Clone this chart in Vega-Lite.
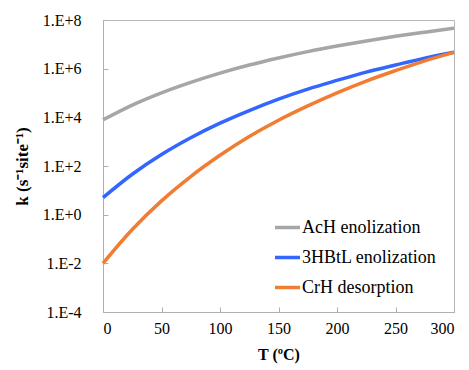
{
  "$schema": "https://vega.github.io/schema/vega-lite/v6.json",
  "width": 351,
  "height": 292,
  "autosize": "none",
  "padding": {"left": 103, "top": 20, "right": 15, "bottom": 58},
  "background": "white",
  "config": {
    "font": "Liberation Serif",
    "view": {"stroke": "#b8b8b8", "strokeWidth": 1},
    "axis": {
      "domainColor": "#b0b0b0",
      "tickColor": "#b0b0b0",
      "grid": false,
      "labelFont": "Liberation Serif",
      "labelFontSize": 16,
      "labelColor": "#000000",
      "titleFont": "Liberation Serif",
      "titleColor": "#000000"
    },
    "legend": {
      "labelFont": "Liberation Serif"
    }
  },
  "data": {
    "values": [
      {"T": 0, "k": 7900, "series": "AcH enolization"},
      {"T": 25, "k": 32000, "series": "AcH enolization"},
      {"T": 50, "k": 102000, "series": "AcH enolization"},
      {"T": 75, "k": 275000, "series": "AcH enolization"},
      {"T": 100, "k": 660000, "series": "AcH enolization"},
      {"T": 125, "k": 1410000, "series": "AcH enolization"},
      {"T": 150, "k": 2750000, "series": "AcH enolization"},
      {"T": 175, "k": 5000000, "series": "AcH enolization"},
      {"T": 200, "k": 8500000, "series": "AcH enolization"},
      {"T": 225, "k": 13800000, "series": "AcH enolization"},
      {"T": 250, "k": 21400000, "series": "AcH enolization"},
      {"T": 275, "k": 31600000, "series": "AcH enolization"},
      {"T": 300, "k": 45700000, "series": "AcH enolization"},
      {"T": 0, "k": 5.0, "series": "3HBtL enolization"},
      {"T": 25, "k": 45.7, "series": "3HBtL enolization"},
      {"T": 50, "k": 295, "series": "3HBtL enolization"},
      {"T": 75, "k": 1445, "series": "3HBtL enolization"},
      {"T": 100, "k": 5750, "series": "3HBtL enolization"},
      {"T": 125, "k": 19000, "series": "3HBtL enolization"},
      {"T": 150, "k": 56000, "series": "3HBtL enolization"},
      {"T": 175, "k": 145000, "series": "3HBtL enolization"},
      {"T": 200, "k": 330000, "series": "3HBtL enolization"},
      {"T": 225, "k": 720000, "series": "3HBtL enolization"},
      {"T": 250, "k": 1410000, "series": "3HBtL enolization"},
      {"T": 275, "k": 2700000, "series": "3HBtL enolization"},
      {"T": 300, "k": 4700000, "series": "3HBtL enolization"},
      {"T": 0, "k": 0.01, "series": "CrH desorption"},
      {"T": 25, "k": 0.245, "series": "CrH desorption"},
      {"T": 50, "k": 3.7, "series": "CrH desorption"},
      {"T": 75, "k": 37, "series": "CrH desorption"},
      {"T": 100, "k": 275, "series": "CrH desorption"},
      {"T": 125, "k": 1620, "series": "CrH desorption"},
      {"T": 150, "k": 7600, "series": "CrH desorption"},
      {"T": 175, "k": 29500, "series": "CrH desorption"},
      {"T": 200, "k": 102000, "series": "CrH desorption"},
      {"T": 225, "k": 310000, "series": "CrH desorption"},
      {"T": 250, "k": 830000, "series": "CrH desorption"},
      {"T": 275, "k": 2100000, "series": "CrH desorption"},
      {"T": 300, "k": 4700000, "series": "CrH desorption"}
    ]
  },
  "mark": {"type": "line", "strokeWidth": 3.5, "interpolate": "monotone"},
  "encoding": {
    "x": {
      "field": "T",
      "type": "quantitative",
      "scale": {"domain": [0, 300], "nice": false},
      "axis": {
        "values": [0, 50, 100, 150, 200, 250, 300],
        "tickSize": -5,
        "labelPadding": 13,
        "title": "T (ºC)",
        "titleFontSize": 16,
        "titleFontWeight": "bold",
        "titlePadding": 10
      }
    },
    "y": {
      "field": "k",
      "type": "quantitative",
      "scale": {"type": "log", "domain": [0.0001, 100000000], "nice": false},
      "axis": {
        "values": [0.0001, 0.01, 1, 100, 10000, 1000000, 100000000],
        "labelExpr": "'1.E' + (round(log(datum.value)/LN10) >= 0 ? '+' : '') + round(log(datum.value)/LN10)",
        "tickSize": -5,
        "labelPadding": 27,
        "title": "k (s⁻¹site⁻¹)",
        "titleFontSize": 17,
        "titleFontWeight": "bold",
        "titlePadding": 11
      }
    },
    "color": {
      "field": "series",
      "type": "nominal",
      "scale": {
        "domain": ["AcH enolization", "3HBtL enolization", "CrH desorption"],
        "range": ["#a6a6a6", "#3366ff", "#f07d32"]
      },
      "legend": {
        "title": null,
        "orient": "none",
        "legendX": 170,
        "legendY": 193,
        "symbolType": "stroke",
        "symbolSize": 625,
        "symbolStrokeWidth": 3.5,
        "labelFont": "Liberation Serif",
        "labelFontSize": 18,
        "labelColor": "#000000",
        "labelOffset": 0,
        "rowPadding": 6
      }
    }
  }
}
